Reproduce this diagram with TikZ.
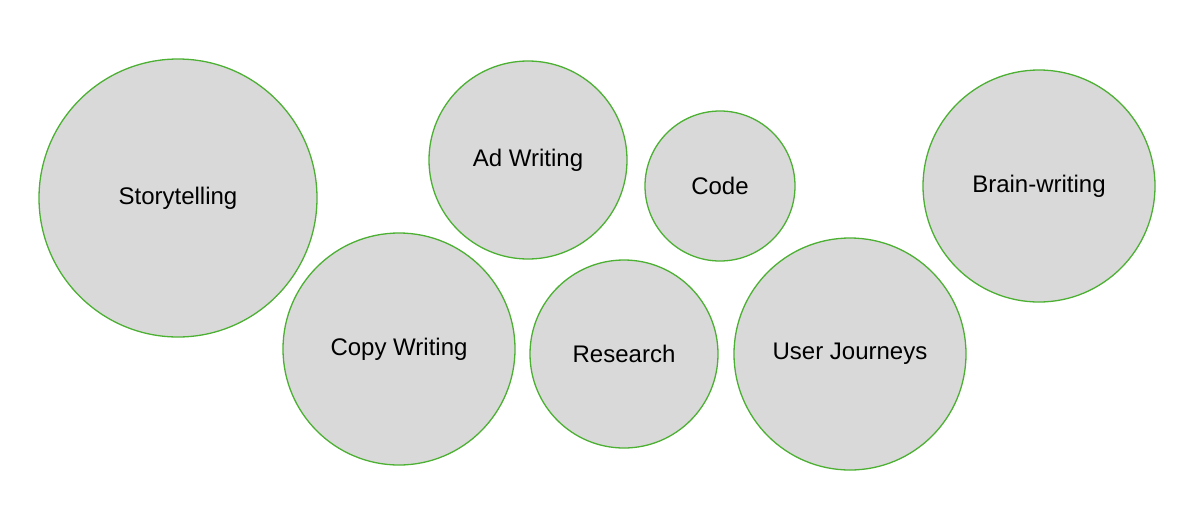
\documentclass[tikz,border=0pt]{standalone}
\usepackage{fontspec}
\setmainfont{Liberation Sans}
\definecolor{cfill}{HTML}{D9D9D9}
\definecolor{cline}{HTML}{4CB033}
\begin{document}
\begin{tikzpicture}[x=1pt,y=-1pt,
  bub/.style={circle,draw=cline,line width=1.3pt,fill=cfill,inner sep=0pt,font=\fontsize{24}{28}\selectfont}]
\useasboundingbox (0,0) rectangle (1200,515);
\node[bub,minimum size=278pt] (st) at (178,198) {Storytelling};
\node[bub,minimum size=198pt] (ad) at (528,160) {Ad Writing};
\node[bub,minimum size=150pt] (co) at (720,186) {Code};
\node[bub,minimum size=232pt] (br) at (1039,186) {Brain-writing};
\node[bub,minimum size=232pt] (cw) at (399,349) {Copy Writing};
\node[bub,minimum size=188pt] (re) at (624,354) {Research};
\node[bub,minimum size=232pt] (uj) at (850,354) {User Journeys};
\end{tikzpicture}
\end{document}
